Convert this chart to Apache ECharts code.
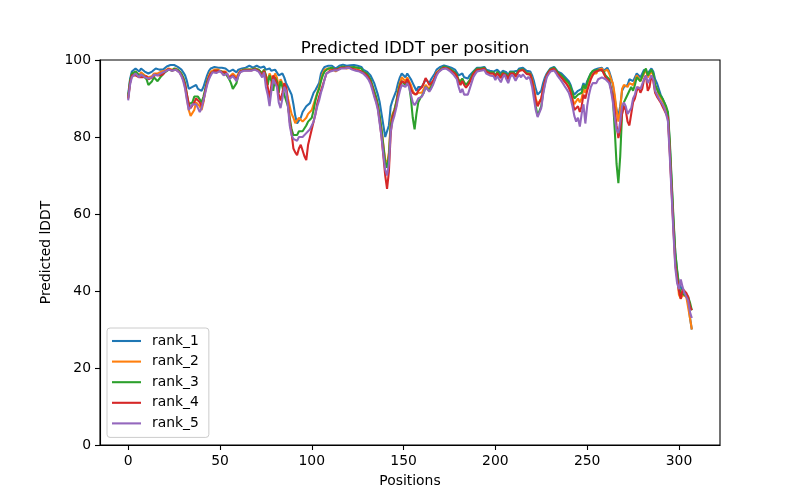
<!DOCTYPE html>
<html>
<head>
<meta charset="utf-8">
<script src="https://cdn.jsdelivr.net/npm/echarts@6/dist/echarts.min.js"></script>
<style>html,body{margin:0;padding:0;background:#fff}#c{width:800px;height:500px}</style>
</head>
<body>
<div id="c"></div>
<script>
const seriesNames = ['rank_1','rank_2','rank_3','rank_4','rank_5'];
const xTicks = [0,50,100,150,200,250,300];
const yTicks = [0,20,40,60,80,100];

const rank_1 = [
91,95,97,97.5,97.8,97.5,97,97.8,97.5,97,
97.3,96.5,96,97,97.5,97.8,97.3,97.5,97.8,97.5,
98,98.3,98.5,98.7,98.5,98.7,98.5,98.2,98,97.5,
96.8,96,94.5,92.5,92.5,93,92.7,93.5,92.5,93,
92,93,94.5,96,97.2,97.8,98,98.2,97.8,98,
98.2,98,97.5,97.8,98,97,96.5,97.5,97,96.8,
97.5,98,97.8,98.2,98,98.3,98.5,98.2,98,98.4,
98.5,98.2,98,97.8,98.3,97.5,97,97.8,97.2,97.5,
97.5,97,96,96.5,96.5,95.5,94,93,92,91,
88.5,85.5,83.5,84,85,86.5,87,88,88.5,88.8,
89,91.5,92.2,92.5,94,96.5,97.5,98.2,98.3,98.5,
98,98.5,98.2,97.8,98.3,98.5,98.7,98.8,98.7,98.5,
98.8,98.6,98.5,98.7,98.3,98.5,98,98.2,97.5,97.8,
97,96.5,96,95,94,92.5,91,89,86,83,
80,79.5,83,88,89.5,90,92,94,95.5,96.5,
96,95.5,96.5,96,95,94,93,92,93,92.5,
93,93.5,95,94.5,94,95,95.5,96.5,97.5,97.8,
98.2,98.5,98.6,98.5,98.3,98.2,98,97.5,97.5,97,
96,95.5,96.5,95.5,95,95.2,96,96.5,97,97.5,
98,98.2,98,97.8,98.2,97.5,97.8,97.2,97.5,97,
96.5,97.5,97,96.5,97.2,97.5,96.8,96,97,97.5,
97,96.5,97.2,97.8,97.5,98,97.8,97.2,97.5,97,
96,94.5,92.5,91,91,92,94,95.5,96.5,97.2,
97.8,98,98.2,97.8,97,96.8,96.5,96,95.5,95,
94.5,93.5,92,91,91.5,92,91.8,92.5,94,93,
94.5,95.5,96.5,97,97.5,97.2,97.8,97.5,98,97.2,
97.5,98,97,95.5,93.5,90,87,85.5,88,92,
93,93.5,93.5,95,95.5,94.5,95.5,96.5,96.5,95.5,
96,97.5,98,96.5,96.5,97.8,97,95,94,92.5,
91,90,89,87.5,86,78,68,58,50,45,
42,41,40.5,39.5,38.5,37.5,33,30
];
const rank_2 = [
90,94,96,96.5,97,96.5,96,96.8,96.5,96,
96.3,95.5,95,95.8,96.5,96.8,96.5,96.5,97,96.5,
97.2,97.5,97.8,98,97.5,98,97.8,97.5,97,96,
95,93,90,87,85.5,85.5,87,89,88.5,88,
87,89,92,94.5,96,97,97.5,97.5,97,97.5,
97.5,97,96.5,97,97,95.5,95,96.5,96,95.5,
96.5,97.2,97,97.5,97.2,97.5,97.8,97.5,97.2,97.8,
97.8,97.5,97,96.5,97.5,96,94.5,96.5,95.5,94.5,
96.5,95.5,93,95,94,92,93,90,88,86,
85,83.6,84,85,84.5,84,84.5,85,86,86.5,
87,88.5,90,91.5,93,95,96.5,97.5,97.5,97.8,
97.2,97.8,97.5,97,97.5,97.8,98,98.2,98,97.8,
98.2,98,97.8,98,97.5,97.8,97.2,97.5,96.8,97,
96,95.5,94.5,93,91.5,90,88,85,82,78,
74,73,76,84,86,87,89,92,94,95.5,
95,94.5,95.5,95,93.5,92,91,90.5,91.5,91,
91.5,92,93.5,93,92.5,93.5,94.5,95.5,96.8,97.2,
97.5,98,98.2,98,97.8,97.5,97.2,96.8,96.5,96,
94.5,94,95,94,93.5,93.5,94.5,95.5,96.5,97,
97.5,97.8,97.5,97.2,97.8,97,97.2,96.5,97,96.5,
95.5,96.8,96.5,95.5,96.5,97,96,95,96.5,97,
96.5,95.5,96.5,97.2,96.8,97.5,97.2,96.5,97,96.5,
95,93,90,88.5,88.5,90,92.5,94.5,96,96.8,
97.5,97.8,97.8,97.2,96.5,96,95.5,95,94.5,94,
93,92,90,88.5,89,90,89,90,92.5,91.5,
93,94.5,95.5,96.5,97,96.5,97.5,97,97.8,97,
97,97.5,96.5,95,94,91,87,84,87,92.5,
93.5,93.5,93,94,94.5,93.5,94.5,96,95.5,94.5,
95,96.5,97.5,95.5,95.5,97,96,93.5,92.5,91,
90.5,89.5,88.5,87,85.5,77,67,57,48,44,
39,38,39,39,38.5,38,33,30
];
const rank_3 = [
90.5,94.5,96.5,97,97,96.5,96,96.5,96,95.5,
95,93.5,93,94.5,95.5,95,94.5,95,95.8,96,
96.8,97,97.5,97.8,97.2,97.8,97.5,97.5,97,96.5,
95.5,94,91,88.5,88,89,90.5,91,90.5,90,
89,90.5,92.5,94.5,95.5,96.5,97,97.2,96.8,97.2,
97.5,97,96.5,96.5,96,95,94,92.5,92,94,
96,97,97,97.5,97,97.5,97.8,97.5,97.2,97.8,
98,97.5,97,96.5,97.5,96,93.5,96,94.5,92,
95.5,94.5,91.5,94.5,93,91,91.5,88,85,82,
80.5,80.5,80.5,81.5,81,81.5,82,83,84,84,
85,87,89.5,91.3,92.5,94.5,96,97,97.5,97.8,
97.5,98,97.8,97.3,97.8,98,98.2,98.3,98.2,98,
98.3,98.1,98,98.2,97.7,98,97.5,97.8,97,97.3,
96.5,95.8,95,93.5,92,90.5,88.5,85.5,82,77.5,
73.5,72,75,83,85.5,87,89,91.5,93.5,94.5,
94,93.5,94.5,93.5,90,85,82,86,89,90,
90.5,91.5,93,92.5,92,93,94,95,96.5,97,
97.5,98,98.3,98.2,98,97.8,97.5,97,96.8,96.2,
94.8,94.2,95.2,94.2,93.5,93.8,94.8,95.8,96.8,97.2,
97.8,98,97.8,97.5,98,97.2,97.5,96.8,97.2,96.8,
95.8,97,96.8,95.8,96.8,97.2,96.3,95.3,96.8,97.2,
96.8,96,96.8,97.4,97,97.6,97.4,96.6,97,96.4,
94.5,91.5,88,85.5,85.5,88,91.5,94,96,97,
97.6,98,98,97.5,96.8,96.5,96,95.5,95,94.5,
94,93,91.5,90,90,91,90.5,91.5,93.5,92.5,
94,95.5,96.5,97.2,97.5,97.3,97.8,97.4,97.8,97,
96,96.5,95,92.5,90,82,73,68,75,86,
89,90,90.5,92,93,92,93.5,95.5,95.5,94.5,
95,97,97.8,96,96,97.5,96.5,93.5,92.5,91.5,
91,90,89,88,86.5,79,69,59,50,45.5,
41,39.5,39.5,39,39,38.5,37,35
];
const rank_4 = [
90,94,96,96.5,96,95.5,95.5,96,95.5,95.5,
95.8,95,95,95.5,96,96.2,95.8,96,96.5,96.3,
97,97.3,97.6,97.8,97.3,97.8,97.5,97.3,96.8,96,
95,93.5,91,88.5,87.5,88,89,90,89.5,89,
88,89.5,92,94,95.5,96.5,97,97.2,96.8,97.2,
97.4,96.8,96.3,96.8,96.8,95.5,95,96,95.5,95,
96,97,96.8,97.3,97,97.3,97.6,97.3,97,97.6,
97.6,97.2,96.8,96,97.2,95.5,93,90,93.5,96,
96,94,91,89.5,91.5,94,93,89,84,81,
77,76,75.3,77,78,76.5,75,74,78,80,
82,84,86,88.7,90.5,92,93.5,95,96.5,97,
97.2,97.7,97.5,97,97.5,97.8,98,98.1,98,97.8,
98.1,97.9,97.7,98,97.4,97.7,97.2,97.5,96.7,97,
96,95.3,94.3,92.8,91,89.5,87.5,84,80,75,
70,66.5,71,81,85,85.5,88,91,93,94.5,
94.5,94,95,94,92.5,91.5,91.8,91,92,92.5,
93,94,95.3,94.5,93.5,94,94.5,95.5,96.5,97,
97.4,97.8,98,98,97.8,97.5,97.2,96.8,96.5,95.8,
94.3,93.5,94.6,93.5,92.8,93,94.2,95.3,96.4,96.9,
97.5,97.8,97.5,97.2,97.8,97,97.3,96.5,97,96.5,
95.5,96.6,96.3,95.3,96.5,97,96,95,96.5,97,
96.5,95.7,96.5,97.2,96.8,97.4,97.2,96.4,96.8,96.2,
94.5,92,89.5,88,88.5,90,92.5,94.5,96,96.8,
97.4,97.8,97.7,97.2,96.4,96,95.4,94.8,94.2,93.6,
92.8,91.5,89.5,87,86.5,88,86.5,88,91,90,
92,93.5,95,96,96.8,96.5,97.2,96.8,97.5,96.5,
95.5,96,94.5,92.5,90.5,87,83,79.7,82,86,
88,87,84,83,86,89,90,92,93,91.5,
92.5,95,96,92,93,96,94.5,91.5,90.5,90,
89,88,87,86,85,76,66,56,47,43.5,
40,38,40.5,40,39.5,38.5,36,35
];
const rank_5 = [
89.5,93.5,95.5,96,96.5,96,95.5,96.3,96,95.5,
95.8,95.2,95,95.5,96.2,96.4,96,96.2,96.6,96.3,
97,97.3,97.5,97.8,97.2,97.7,97.5,97.2,96.7,95.8,
94.5,92.5,89.5,87,87.5,88.5,89,88.5,87.5,86.5,
87.5,89.5,91.5,93.5,95,96,96.8,97,96.6,97,
97.2,96.6,96,96.5,96.5,95,94.5,95.8,95.2,94.5,
95.8,96.8,96.6,97.2,96.8,97.2,97.5,97.2,96.8,97.5,
97.5,97,96.5,95.5,96.8,93,91,88,92,95,
95.5,93,89,87.5,90,93,92,88,83,80.5,
79.5,79.2,79,80,80.5,80,80.5,81,81.4,82,
82.5,84,86,88,89.5,91.5,93,95,96.5,97,
97,97.5,97.3,96.8,97.3,97.6,97.8,98,97.8,97.6,
98,97.8,97.5,97.8,97.2,97.5,97,97.2,96.5,96.8,
95.5,94.8,93.8,92.2,90.5,89,87,83.5,80,75.5,
71.5,70,73,81.5,84,85.5,87.5,90,92,93.5,
93.5,93,94,93,91,89,88.3,89,90,90,
90.5,91.5,93,92.5,91.8,92.5,93.5,94.8,96,96.8,
97.2,97.6,97.8,97.8,97.5,97.2,96.8,96.3,95.8,95,
93,91.5,92.5,91,90.5,91,92.5,94,95.5,96.3,
97,97.4,97.2,96.8,97.4,96.5,96.8,96,96.5,95.8,
94.8,95.8,95.5,94.2,95.5,96.2,95,94,95.5,96.2,
95.6,94.6,95.5,96.2,95.5,96.3,96,95,95.6,95,
93,90,87,85.2,85.5,87.5,91,93.5,95.5,96.3,
97,97.5,97.3,96.6,95.8,95.2,94.5,93.8,93,92.3,
91.5,90,88,85.5,84,85,82.7,86,88.5,83.5,
88,91,93,94,94.5,94,95,94.5,95.5,95,
95,95.5,94,92,89,85,82,81,84,88,
89,88,86,85.5,87.5,90,91,93,93.5,92.5,
93,95,96,94,94,96,95,92,91.5,90,
89.5,88.5,87.5,86,84,75,65,55,46,42,
40.5,43,41,39.5,39,37.5,34.5,33
];

const allSeries = [rank_1, rank_2, rank_3, rank_4, rank_5];
const colors = ['#1f77b4','#ff7f0e','#2ca02c','#d62728','#9467bd'];

const chart = echarts.init(document.getElementById('c'), null, {renderer:'canvas'});
const font = 'DejaVu Sans';
chart.setOption({
  animation: false,
  backgroundColor: '#fff',
  title: {
    text: 'Predicted lDDT per position',
    left: 410, top: 35, textAlign: 'center',
    textStyle: {fontFamily: font, fontSize: 16.7, fontWeight: 'normal', color: '#000'}
  },
  legend: {
    orient: 'vertical',
    left: 107, top: 328,
    padding: [6, 10, 7, 5],
    itemGap: 6.6,
    itemWidth: 29, itemHeight: 2.1,
    icon: 'rect',
    backgroundColor: 'rgba(255,255,255,0.8)',
    borderColor: '#cccccc', borderWidth: 1, borderRadius: 3,
    textStyle: {fontFamily: font, fontSize: 13.9, lineHeight: 14, color: '#000', padding: [0,0,0,6]},
    data: seriesNames
  },
  grid: {left: 100, right: 80, top: 60, bottom: 55, show: true, borderColor: '#000', borderWidth: 1.1, backgroundColor: 'transparent'},
  xAxis: {
    type: 'value', min: -15.35, max: 322.35,
    name: 'Positions', nameLocation: 'middle', nameGap: 29,
    nameTextStyle: {fontFamily: font, fontSize: 13.9, color: '#000'},
    splitLine: {show: false},
    axisLine: {show: true, onZero: false, lineStyle: {color: '#000', width: 1.1}},
    axisTick: {show: true, inside: false, length: 5, lineStyle: {color: '#000', width: 1.1}, customValues: xTicks},
    axisLabel: {fontFamily: font, fontSize: 13.9, color: '#000', margin: 9, customValues: xTicks}
  },
  yAxis: {
    type: 'value', min: 0, max: 100, interval: 20,
    name: 'Predicted lDDT', nameLocation: 'middle', nameGap: 39,
    nameTextStyle: {fontFamily: font, fontSize: 13.9, color: '#000'},
    splitLine: {show: false},
    axisLine: {show: true, onZero: false, lineStyle: {color: '#000', width: 1.1}},
    axisTick: {show: true, inside: false, length: 5, lineStyle: {color: '#000', width: 1.1}, customValues: yTicks},
    axisLabel: {fontFamily: font, fontSize: 13.9, color: '#000', margin: 9, customValues: yTicks}
  },
  series: allSeries.map((arr, k) => ({
    name: seriesNames[k],
    type: 'line',
    symbol: 'none',
    showSymbol: false,
    data: arr.map((v, i) => [i, v]),
    lineStyle: {color: colors[k], width: 2.08},
    itemStyle: {color: colors[k]},
    z: 2 + k
  }))
});
</script>
</body>
</html>
